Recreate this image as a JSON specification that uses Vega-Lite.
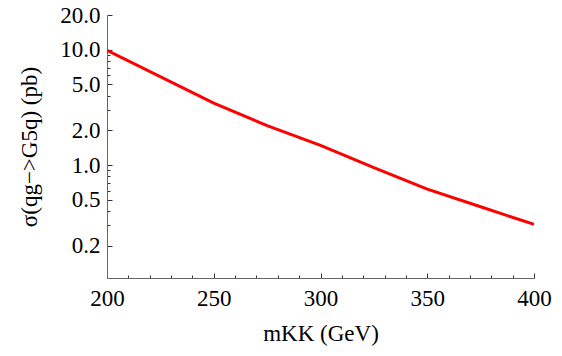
{
  "$schema": "https://vega.github.io/schema/vega-lite/v6.json",
  "width": 427,
  "height": 263,
  "autosize": "none",
  "padding": {"left": 107, "top": 15, "right": 28, "bottom": 78},
  "background": "white",
  "config": {
    "view": {"stroke": null},
    "font": "Liberation Serif",
    "axis": {"labelFont": "Liberation Serif", "titleFont": "Liberation Serif", "labelColor": "black", "titleColor": "black", "domainColor": "#666666", "tickColor": "#333333", "grid": false, "titleFontWeight": "normal"}
  },
  "data": {
    "values": [
      {"mKK": 200, "sigma": 9.9},
      {"mKK": 250, "sigma": 3.44},
      {"mKK": 275, "sigma": 2.2},
      {"mKK": 300, "sigma": 1.48},
      {"mKK": 325, "sigma": 0.95},
      {"mKK": 350, "sigma": 0.618},
      {"mKK": 375, "sigma": 0.435},
      {"mKK": 400, "sigma": 0.306}
    ]
  },
  "mark": {"type": "line", "color": "#ff0000", "strokeWidth": 3, "clip": true},
  "encoding": {
    "x": {
      "field": "mKK", "type": "quantitative",
      "scale": {"domain": [200, 400], "nice": false, "zero": false},
      "axis": {
        "title": "mKK (GeV)", "titleFont": "Liberation Serif", "titleFontSize": 23, "titlePadding": 10,
        "labelFont": "Liberation Serif", "labelFontSize": 23, "labelPadding": 14,
        "values": [200,210,220,230,240,250,260,270,280,290,300,310,320,330,340,350,360,370,380,390,400],
        "labelExpr": "datum.value % 50 === 0 ? datum.label : ''",
        "tickSize": {"condition": {"test": "datum.value % 50 === 0", "value": -5}, "value": -3},
        "labelFlush": false, "labelOverlap": false
      }
    },
    "y": {
      "field": "sigma", "type": "quantitative",
      "scale": {"type": "log", "domain": [0.105, 20], "nice": false},
      "axis": {
        "title": "σ(qg−>G5q) (pb)", "titleFont": "Liberation Serif", "titleFontSize": 23, "titlePadding": 18,
        "labelFont": "Liberation Serif", "labelFontSize": 23, "labelPadding": 12,
        "values": [0.2,0.3,0.4,0.5,0.6,0.7,0.8,0.9,1,2,3,4,5,6,7,8,9,10,20],
        "labelExpr": "indexof([0.2,0.5,1,2,5,10,20], datum.value) >= 0 ? format(datum.value, '.1f') : ''",
        "tickSize": {"condition": {"test": "indexof([0.2,0.5,1,2,5,10,20], datum.value) >= 0", "value": -5}, "value": -3},
        "labelOverlap": false, "labelFlush": false
      }
    }
  }
}
